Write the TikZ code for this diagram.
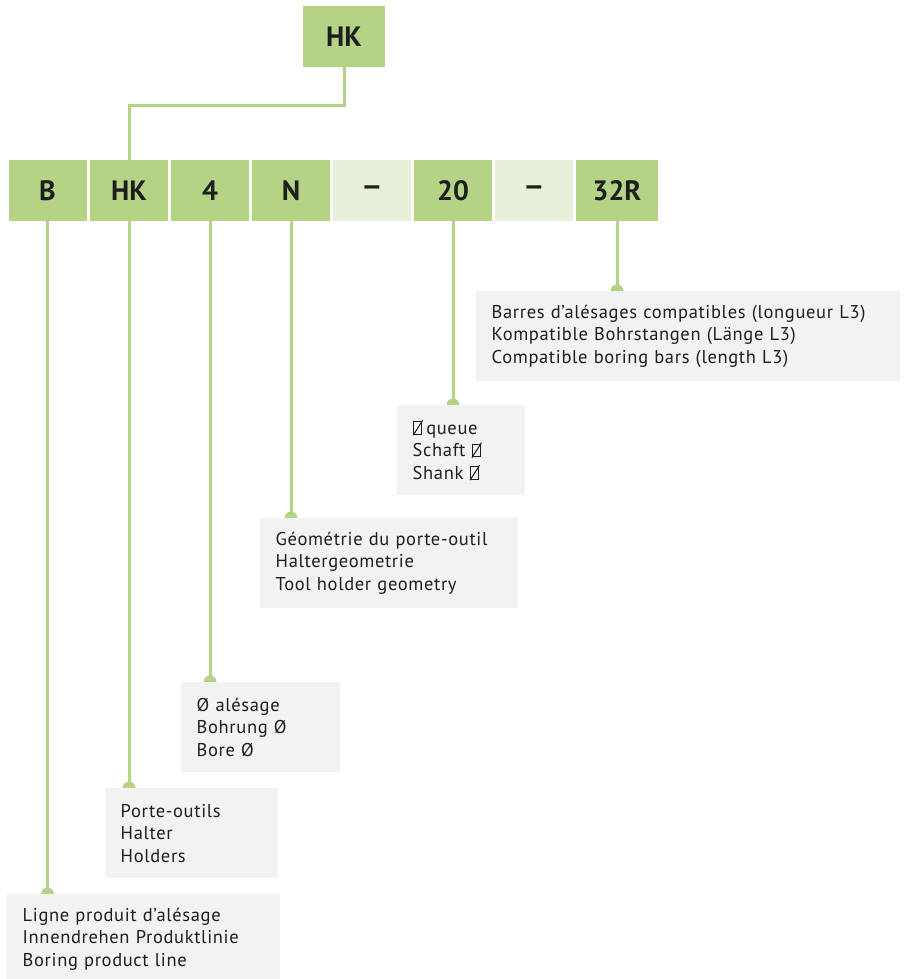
\documentclass[tikz,border=0pt]{standalone}
\usepackage{fontspec}
\setmainfont{PT Sans}
\newfontfamily\infofont[LetterSpace=3.5]{PT Sans}
\usetikzlibrary{backgrounds}
\definecolor{lgreen}{HTML}{B4D385}
\definecolor{pgreen}{HTML}{E6F0D8}
\definecolor{lgray}{HTML}{F2F2F2}
\definecolor{txt}{HTML}{1E1E1E}
\newcommand\sqdia{\tikz[baseline=0pt,x=1pt,y=1pt]{\draw[line width=1pt,txt] (0,0) rectangle (8,12.5); \draw[line width=1pt,txt] (-0.5,-1) -- (9,14);}}
\newcommand\wdash{\raisebox{-1pt}{\scalebox{1.2}[1]{–}}}
\begin{document}
\begin{tikzpicture}[x=1pt,y=-1pt,
  codebox/.style={fill=lgreen,minimum width=78pt,minimum height=61pt,inner sep=0pt,font=\fontsize{28}{30}\selectfont\bfseries,text=txt},
  dashbox/.style={codebox,fill=pgreen},
  infobox/.style={fill=lgray,anchor=north west,minimum height=90pt,inner xsep=15.5pt,inner ysep=0pt,align=left,font=\infofont\fontsize{18.5}{22.5}\selectfont,text=txt},
  link/.style={draw=lgreen,line width=3pt},
  dot/.style={fill=lgreen}]
\useasboundingbox (0,0) rectangle (903,979);
% code row
\node[codebox,minimum width=82pt] (top) at (344,36.5) {HK};
\node[codebox] (cB) at (47.5,190.5) {B};
\node[codebox] (cHK) at (129,190.5) {HK};
\node[codebox] (c4) at (210,190.5) {4};
\node[codebox] (cN) at (291,190.5) {N};
\node[dashbox] (d1) at (372,190.5) {\wdash};
\node[codebox] (c20) at (453,190.5) {20};
\node[dashbox] (d2) at (534,190.5) {\wdash};
\node[codebox,minimum width=82pt] (c32) at (617,190.5) {32R};
% info boxes
\node[infobox,text width=393pt] (g32) at (476,291) {Barres d’alésages compatibles (longueur L3)\\Kompatible Bohrstangen (Länge L3)\\Compatible boring bars (length L3)};
\node[infobox,text width=97pt] (g20) at (397,405) {\sqdia\,queue\\Schaft \sqdia\\Shank \sqdia};
\node[infobox,text width=227pt] (gN) at (260,518) {Géométrie du porte-outil\\Haltergeometrie\\Tool holder geometry};
\node[infobox,text width=128pt] (g4) at (181,682) {Ø alésage\\Bohrung Ø\\Bore Ø};
\node[infobox,text width=142pt] (gHK) at (105,788) {Porte-outils\\Halter\\Holders};
\node[infobox,text width=242pt] (gB) at (7,894) {Ligne produit d’alésage\\Innendrehen Produktlinie\\Boring product line};
% connectors
\begin{scope}[on background layer]
\draw[link] (top.south) -- ++(0,38) -| (cHK.north);
\foreach \c/\g in {cB/gB,cHK/gHK,c4/g4,cN/gN,c20/g20,c32/g32}{
  \draw[link] (\c.south) -- (\c.south |- \g.north);
  \fill[dot] (\c.south |- \g.north) circle (6.5pt);
}
\end{scope}
\end{tikzpicture}
\end{document}
